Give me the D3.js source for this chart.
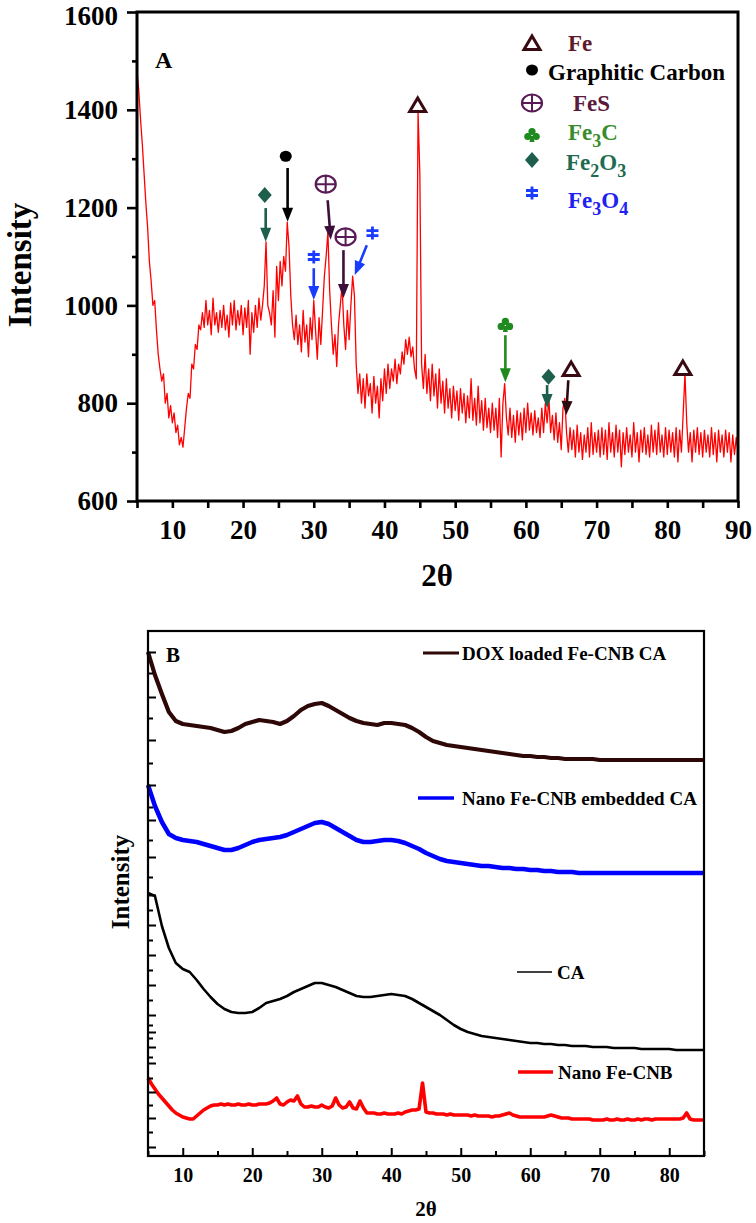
<!DOCTYPE html>
<html><head><meta charset="utf-8">
<script src="https://cdn.jsdelivr.net/npm/d3@7"></script>
<style>
body{margin:0;background:#fff}
svg{display:block}
text{font-family:"Liberation Serif","Times New Roman",serif;font-weight:bold}
</style>
</head><body>
<svg id="c" width="756" height="1223"></svg>
<script>
// ---------------- Panel A data (2θ from 5 to 90, step 0.25) ----------------
const aStart = 5, aStep = 0.25;
const feCnbXRD = [
/*5*/ 1480,1440,1380,1330, /*6*/ 1270,1210,1160,1090, /*7*/ 1050,1000,1010,950,
/*8*/ 900,870,845,860, /*9*/ 800,820,770,795, /*10*/ 760,780,740,755,
/*11*/ 715,730,710,750, /*12*/ 790,820,810,880, /*13*/ 870,920,910,960,
/*14*/ 950,985,955,1010, /*15*/ 960,990,940,1015, /*16*/ 960,985,945,990,
/*17*/ 955,1000,950,980, /*18*/ 935,1005,960,1010, /*19*/ 950,990,960,1000,
/*20*/ 940,995,955,1010, /*21*/ 900,985,945,1000, /*22*/ 955,1015,970,1000,
/*23*/ 1040,1130,1000,985, /*24*/ 960,1030,935,1080, /*25*/ 1010,1090,1040,1100,
/*26*/ 1070,1170,1120,1020, /*27*/ 960,930,980,920, /*28*/ 960,905,990,925,
/*29*/ 960,895,975,930, /*30*/ 1010,950,890,975, /*31*/ 920,990,1060,1100,
/*32*/ 1150,1030,960,900, /*33*/ 940,875,960,1000, /*34*/ 1040,960,910,990,
/*35*/ 930,1000,1060,1020, /*36*/ 880,820,860,800, /*37*/ 850,790,860,815,
/*38*/ 840,780,855,800, /*39*/ 835,770,850,805, /*40*/ 870,820,880,830,
/*41*/ 870,845,890,840, /*42*/ 880,860,905,880, /*43*/ 930,900,935,895,
/*44*/ 915,870,850,1395, /*45*/ 1270,880,830,900, /*46*/ 820,870,805,880,
/*47*/ 815,860,790,870, /*48*/ 800,845,780,850, /*49*/ 790,830,770,835,
/*50*/ 785,825,765,830, /*51*/ 780,820,760,815, /*52*/ 770,850,765,810,
/*53*/ 755,835,760,805, /*54*/ 745,810,750,790, /*55*/ 740,800,745,790,
/*56*/ 730,810,690,800, /*57*/ 840,770,735,790, /*58*/ 730,775,720,785,
/*59*/ 735,780,725,790, /*60*/ 740,800,745,780, /*61*/ 735,785,740,770,
/*62*/ 730,790,740,800, /*63*/ 760,810,740,775, /*64*/ 725,780,720,760,
/*65*/ 705,790,810,740, /*66*/ 700,750,705,745, /*67*/ 690,755,700,740,
/*68*/ 685,735,700,750, /*69*/ 690,760,695,740, /*70*/ 700,745,690,750,
/*71*/ 695,745,685,760, /*72*/ 700,740,690,755, /*73*/ 700,745,670,740,
/*74*/ 695,750,700,735, /*75*/ 690,760,700,740, /*76*/ 680,745,700,750,
/*77*/ 695,735,690,755, /*78*/ 700,745,695,760, /*79*/ 700,735,690,750,
/*80*/ 695,745,700,740, /*81*/ 690,750,680,745, /*82*/ 700,780,860,760,
/*83*/ 700,740,680,745, /*84*/ 700,750,695,740, /*85*/ 690,745,700,735,
/*86*/ 690,750,695,740, /*87*/ 680,745,700,735, /*88*/ 690,745,700,740,
/*89*/ 680,735,695,730, /*90*/ 700
];
const aTickX = [5,10,15,20,25,30,35,40,45,50,55,60,65,70,75,80,85,90];
const aTickXLabels = [10,20,30,40,50,60,70,80,90];
const aTickY = [600,700,800,900,1000,1100,1200,1300,1400,1500,1600];
const aTickYLabels = [600,800,1000,1200,1400,1600];

// peak annotations (2θ, intensity of symbol, arrow from/to)
const annType = ['diamond','dot','oplus','oplus','dagger','dagger','delta','club','diamond','delta','delta'];
const annX    = [23.07, 26.04, 31.69, 34.5, 30.0, 38.3, 44.7, 57.1, 63.2, 66.4, 82.2];
const annY    = [1226, 1305, 1248, 1140, 1099, 1148, 1410, 960, 854, 870, 872];
const arrX1   = [23.2, 26.3, 31.97, 34.2, 30.0, 37.5, null, 57.1, 63.0, 66.0, null];
const arrY1   = [1199, 1281, 1215, 1113, 1076, 1123, null, 939, 837, 847, null];
const arrX2   = [23.2, 26.3, 32.4, 34.2, 30.0, 35.8, null, 57.1, 63.0, 65.7, null];
const arrY2   = [1130, 1171, 1134, 1015, 1011, 1062, null, 843, 790, 776, null];

// legend of phases
const phaseSym = ['delta','dot','oplus','club','diamond','dagger'];
const phaseLabel = [
  [['Fe','n']],
  [['Graphitic Carbon','n']],
  [['FeS','n']],
  [['Fe','n'],['3','s'],['C','n']],
  [['Fe','n'],['2','s'],['O','n'],['3','s']],
  [['Fe','n'],['3','s'],['O','n'],['4','s']]
];

// ---------------- Panel B data (arbitrary stacked intensity) ----------------
const bStart = 5, bStep = 1;
const doxLoaded = [
504,481,462,444,435,432,431,430,429,428, 426,424,425,428,432,434,436,435,434,432,
435,440,446,450,452,453,450,446,442,438, 435,433,432,431,433,433,432,431,428,424,
419,415,413,411,410,409,408,407,406,405, 404,403,402,401,400,400,399,399,398,398,
397,397,397,397,397,396,396,396,396,396, 396,396,396,396,396,396,396,396,396,396, 396
];
const nanoEmbedded = [
371,350,334,322,318,316,315,314,312,310, 308,306,306,308,311,314,316,317,318,319,
321,324,327,330,333,334,332,328,324,320, 316,314,314,315,316,316,315,313,310,307,
303,300,297,295,294,293,292,291,290,290, 289,288,288,287,287,286,286,285,285,284,
284,284,283,283,283,283,283,283,283,283, 283,283,283,283,283,283,283,283,283,283, 283
];
const caOnly = [
263,260,230,208,193,187,184,176,167,159, 152,147,144,143,143,144,148,153,155,157,
160,164,167,170,173,173,171,169,166,163, 160,159,159,160,161,162,161,160,157,153,
149,145,141,136,131,127,124,122,120,119, 118,117,116,115,114,113,113,112,112,111,
111,110,110,110,109,109,109,108,108,108, 108,107,107,107,107,107,106,106,106,106, 106
];
const rStart = 5, rStep = 0.5;
const nanoFeCnb = [
/*5*/ 78,72, /*6*/ 67,62, /*7*/ 58,54, /*8*/ 50,46, /*9*/ 43,41, /*10*/ 39,38,
/*11*/ 37,37, /*12*/ 40,43, /*13*/ 46,48, /*14*/ 50,51, /*15*/ 51,52, /*16*/ 51,52,
/*17*/ 51,51, /*18*/ 52,51, /*19*/ 51,52, /*20*/ 51,51, /*21*/ 52,52, /*22*/ 52,53,
/*23*/ 55,58, /*24*/ 52,51, /*25*/ 54,56, /*26*/ 55,60, /*27*/ 52,49, /*28*/ 49,50,
/*29*/ 49,49, /*30*/ 51,49, /*31*/ 48,50, /*32*/ 58,51, /*33*/ 48,49, /*34*/ 54,48,
/*35*/ 47,55, /*36*/ 48,43, /*37*/ 43,43, /*38*/ 42,42, /*39*/ 43,42, /*40*/ 42,42,
/*41*/ 43,42, /*42*/ 44,45, /*43*/ 46,46, /*44*/ 47,73, /*45*/ 44,43, /*46*/ 43,42,
/*47*/ 42,42, /*48*/ 41,42, /*49*/ 41,41, /*50*/ 41,41, /*51*/ 41,40, /*52*/ 41,40,
/*53*/ 40,40, /*54*/ 40,39, /*55*/ 40,40, /*56*/ 41,42, /*57*/ 43,41, /*58*/ 40,39,
/*59*/ 39,39, /*60*/ 39,39, /*61*/ 39,39, /*62*/ 39,40, /*63*/ 41,40, /*64*/ 39,38,
/*65*/ 38,38, /*66*/ 37,37, /*67*/ 37,37, /*68*/ 37,37, /*69*/ 36,36, /*70*/ 36,36,
/*71*/ 37,36, /*72*/ 36,37, /*73*/ 36,36, /*74*/ 37,36, /*75*/ 36,37, /*76*/ 36,37,
/*77*/ 37,36, /*78*/ 37,37, /*79*/ 37,37, /*80*/ 37,37, /*81*/ 37,37, /*82*/ 38,43,
/*83*/ 37,36, /*84*/ 36,36, /*85*/ 36
];
const bTickX = [5,10,15,20,25,30,35,40,45,50,55,60,65,70,75,80,85];
const bTickXLabels = [10,20,30,40,50,60,70,80];
const bTickY = [504,483,459,438,416,393,371,349,336,316,299,279,261,246,231,216,201,186,171,156,141,131,124,118,109,99,93,78,64,51,38,24,9];
const bSeriesNames = ['DOX loaded Fe-CNB CA','Nano Fe-CNB embedded CA','CA','Nano Fe-CNB'];
const bSeriesColors = ['#2e0707','#0000ff','#000000','#ff0000'];

// ---------------- drawing ----------------
const svg = d3.select('#c');
const FONT = '"Liberation Serif","Times New Roman",serif';

// ===== Panel A =====
const xA = d3.scaleLinear().domain([5,90]).range([137,738]);
const yA = d3.scaleLinear().domain([600,1600]).range([501,12]);
const gA = svg.append('g');

const lineA = d3.line().x((d,i)=>xA(aStart+i*aStep)).y(d=>yA(d));
gA.append('path').datum(feCnbXRD).attr('d',lineA)
  .attr('fill','none').attr('stroke','#ff0000').attr('stroke-width',1.3).attr('stroke-linejoin','round');

// axes A
const axA = gA.append('g').attr('transform','translate(0,501)')
  .call(d3.axisBottom(xA).tickValues(aTickX).tickSize(7).tickPadding(12)
    .tickFormat(d=> aTickXLabels.includes(d) ? d : ''));
axA.select('.domain').remove();
axA.selectAll('line').attr('stroke','#000').attr('stroke-width',2.6);
axA.selectAll('text').attr('font-size',27).attr('font-family',FONT).attr('font-weight','bold').attr('fill','#000');

const ayA = gA.append('g').attr('transform','translate(137,0)')
  .call(d3.axisLeft(yA).tickValues(aTickY).tickSize(10).tickPadding(9)
    .tickFormat(d=> aTickYLabels.includes(d) ? d : ''));
ayA.select('.domain').remove();
ayA.selectAll('.tick line').attr('stroke','#000').attr('stroke-width',2.6)
  .attr('x2', d=> aTickYLabels.includes(d) ? -10 : -5);
ayA.selectAll('text').attr('font-size',27).attr('font-family',FONT).attr('font-weight','bold').attr('fill','#000')
  .attr('dy', d=> d===1600 ? '0.45em' : '0.32em');

gA.append('rect').attr('x',137).attr('y',12).attr('width',601).attr('height',489)
  .attr('fill','none').attr('stroke','#000').attr('stroke-width',3);

gA.append('text').attr('x',155).attr('y',68).attr('font-size',24).text('A');
gA.append('text').attr('transform','translate(31,265) rotate(-90)').attr('text-anchor','middle')
  .attr('font-size',33).text('Intensity');
gA.append('text').attr('x',437).attr('y',586).attr('text-anchor','middle').attr('font-size',31).text('2θ');

// symbol helper
const symColor = {delta:'#3a0a12', dot:'#000000', oplus:'#5a1a55', club:'#1f8a1f', diamond:'#1d5e4c', dagger:'#1a3cff'};
const arrColor = {delta:'#2b0a10', dot:'#000000', oplus:'#3b0f3a', club:'#1f8a1f', diamond:'#1d5e4c', dagger:'#1a3cff'};
function drawSymbol(g, type, cx, cy){
  const c = symColor[type];
  const s = g.append('g').attr('transform',`translate(${cx},${cy})`);
  if(type==='delta'){
    s.append('path').attr('d','M0,-7L8,6.5L-8,6.5Z').attr('fill','#fff').attr('stroke',c).attr('stroke-width',3).attr('stroke-linejoin','miter');
  } else if(type==='dot'){
    s.append('ellipse').attr('rx',6).attr('ry',5.5).attr('fill',c);
  } else if(type==='oplus'){
    s.append('ellipse').attr('rx',10).attr('ry',8.5).attr('fill','none').attr('stroke',c).attr('stroke-width',2.2);
    s.append('path').attr('d','M-10,0H10M0,-8.5V8.5').attr('stroke',c).attr('stroke-width',2);
  } else if(type==='club'){
    s.append('circle').attr('cx',0).attr('cy',-3.5).attr('r',3.6).attr('fill',c);
    s.append('circle').attr('cx',-4.2).attr('cy',1.5).attr('r',3.6).attr('fill',c);
    s.append('circle').attr('cx',4.2).attr('cy',1.5).attr('r',3.6).attr('fill',c);
    s.append('path').attr('d','M-1.2,1L1.2,1L2.5,7L-2.5,7Z').attr('fill',c);
  } else if(type==='diamond'){
    s.append('path').attr('d','M0,-8L7,0L0,8L-7,0Z').attr('fill',c);
  } else if(type==='dagger'){
    s.append('path').attr('d','M0,-6.5V6.5M-6,-2.5H6M-6,2.5H6').attr('stroke',c).attr('stroke-width',2.8);
  }
}
function drawArrow(g, x1,y1,x2,y2,color){
  const dx=x2-x1, dy=y2-y1, L=Math.hypot(dx,dy), ux=dx/L, uy=dy/L;
  const hl=14, hw=5.5;
  const bx=x2-ux*hl, by=y2-uy*hl;
  g.append('line').attr('x1',x1).attr('y1',y1).attr('x2',bx+ux*2).attr('y2',by+uy*2)
    .attr('stroke',color).attr('stroke-width',2.6);
  g.append('path').attr('d',`M${x2},${y2}L${bx-uy*hw},${by+ux*hw}L${bx+uy*hw},${by-ux*hw}Z`).attr('fill',color);
}
const gAnn = gA.append('g');
annType.forEach((t,i)=>{
  if(arrX1[i]!==null) drawArrow(gAnn, xA(arrX1[i]), yA(arrY1[i]), xA(arrX2[i]), yA(arrY2[i]), arrColor[t]);
  drawSymbol(gAnn, t, xA(annX[i]), yA(annY[i]));
});

// legend A
const legTextColor = ['#5e1a2a','#000000','#5a1a3c','#3a8c2a','#1e6b50','#2020f0'];
const legSymY = [43,70,103,135,160,193];
const legTextX = [568,548,573,568,566,568];
const legTextY = [51,80,111,140,170,208];
phaseSym.forEach((t,i)=>{
  drawSymbol(gA, t, 532, legSymY[i]);
  const tx = gA.append('text').attr('x',legTextX[i]).attr('y',legTextY[i]).attr('font-size',23).attr('fill',legTextColor[i]);
  let sub=false;
  phaseLabel[i].forEach(([s,k])=>{
    const ts = tx.append('tspan').text(s);
    if(k==='s'){ ts.attr('font-size',18).attr('dy', sub? 0 : 7); sub=true; }
    else { if(sub){ ts.attr('dy',-7); sub=false; } }
  });
});

// ===== Panel B =====
const xB = d3.scaleLinear().domain([5,85]).range([148,704]);
const yB = d3.scaleLinear().domain([0,525]).range([1156,631]);
const gB = svg.append('g');
const bSeries = [
  {vals:doxLoaded, start:bStart, step:bStep, w:4.2},
  {vals:nanoEmbedded, start:bStart, step:bStep, w:4.5},
  {vals:caOnly, start:bStart, step:bStep, w:2.6},
  {vals:nanoFeCnb, start:rStart, step:rStep, w:3.6}
];
bSeries.forEach((s,k)=>{
  const ln = d3.line().x((d,i)=>xB(s.start+i*s.step)).y(d=>yB(d));
  gB.append('path').datum(s.vals).attr('d',ln).attr('fill','none')
    .attr('stroke',bSeriesColors[k]).attr('stroke-width',s.w).attr('stroke-linejoin','round');
});

const axB = gB.append('g').attr('transform','translate(0,1156)')
  .call(d3.axisBottom(xB).tickValues(bTickX).tickSize(-8).tickPadding(12)
    .tickFormat(d=> bTickXLabels.includes(d) ? d : ''));
axB.select('.domain').remove();
axB.selectAll('.tick line').attr('stroke','#000').attr('stroke-width',2)
  .attr('y2', d=> bTickXLabels.includes(d) ? -8 : -5);
axB.selectAll('text').attr('font-size',20).attr('font-family',FONT).attr('font-weight','bold').attr('fill','#000');

const ayB = gB.append('g').attr('transform','translate(148,0)')
  .call(d3.axisLeft(yB).tickValues(bTickY).tickSize(-7).tickFormat(''));
ayB.select('.domain').remove();
ayB.selectAll('.tick line').attr('stroke','#000').attr('stroke-width',2)
  .attr('x2',(d,i)=> i%2===0 ? 8 : 5);

gB.append('rect').attr('x',148).attr('y',631).attr('width',556).attr('height',525)
  .attr('fill','none').attr('stroke','#000').attr('stroke-width',2.2);

gB.append('text').attr('x',166).attr('y',662).attr('font-size',21).text('B');
gB.append('text').attr('transform','translate(129,882) rotate(-90)').attr('text-anchor','middle')
  .attr('font-size',25).text('Intensity');
gB.append('text').attr('x',426).attr('y',1216).attr('text-anchor','middle').attr('font-size',21).text('2θ');

// legend B
const bLegLineX1 = [423,418,517,518], bLegLineX2 = [459,454,552,553];
const bLegY = [653,798,972,1072];
const bLegTextX = [462,462,557,558];
const bLegW = [3,3.5,1.5,3.5];
bSeriesNames.forEach((n,k)=>{
  gB.append('line').attr('x1',bLegLineX1[k]).attr('x2',bLegLineX2[k]).attr('y1',bLegY[k]).attr('y2',bLegY[k])
    .attr('stroke',bSeriesColors[k]).attr('stroke-width',bLegW[k]);
  gB.append('text').attr('x',bLegTextX[k]).attr('y',bLegY[k]+7).attr('font-size',19).attr('fill','#000').text(n);
});
</script>
</body></html>
